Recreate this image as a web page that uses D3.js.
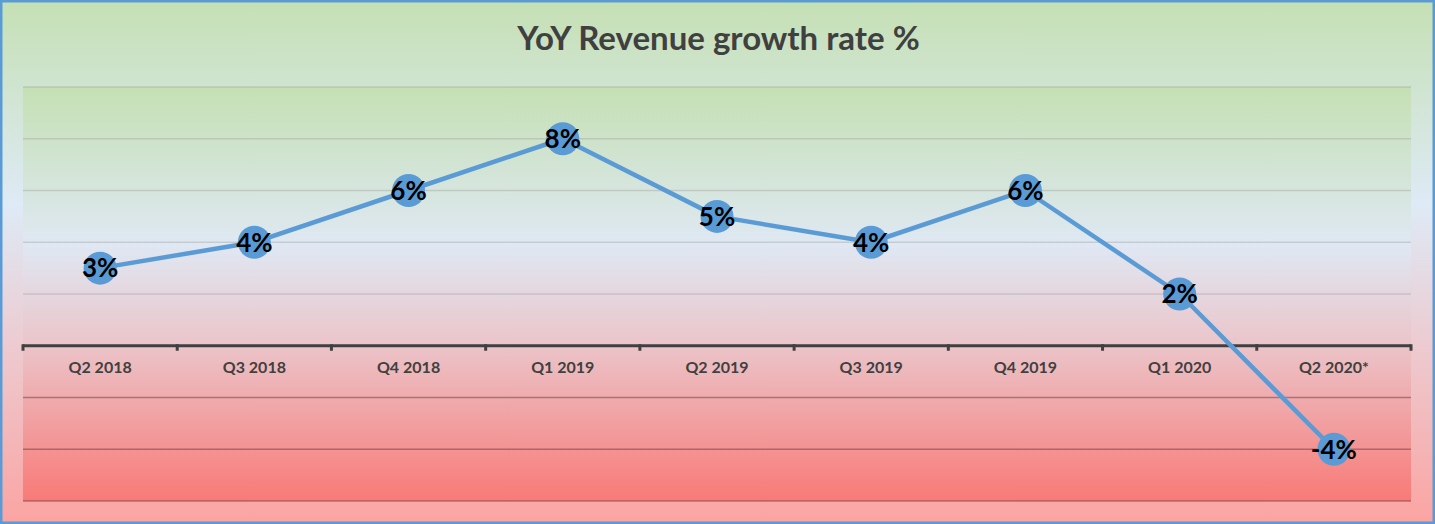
<!DOCTYPE html>
<html>
<head>
<meta charset="utf-8">
<script src="https://cdn.jsdelivr.net/npm/d3@7"></script>
<style>
  html, body { margin: 0; padding: 0; background: #fff; }
  svg { display: block; }
</style>
</head>
<body>
<script>
// chart data
var quarters = ["Q2 2018", "Q3 2018", "Q4 2018", "Q1 2019", "Q2 2019", "Q3 2019", "Q4 2019", "Q1 2020", "Q2 2020*"];
var growth = [3, 4, 6, 8, 5, 4, 6, 2, -4];
var gridValues = [-6, -4, -2, 2, 4, 6, 8, 10];

var W = 1435, H = 524;
var plot = { left: 23, right: 1411, top: 87, bottom: 501 };

var svg = d3.select("body")
            .append("svg")
            .attr("width", W)
            .attr("height", H);

var defs = svg.append("defs");

var bgGrad = defs.append("linearGradient")
                 .attr("id", "bgGrad")
                 .attr("x1", 0).attr("y1", 0).attr("x2", 0).attr("y2", 1);
bgGrad.append("stop").attr("offset", "0%").attr("stop-color", "#c5e0b4");
bgGrad.append("stop").attr("offset", "39%").attr("stop-color", "#deeaf6");
bgGrad.append("stop").attr("offset", "65%").attr("stop-color", "#ecccd2");
bgGrad.append("stop").attr("offset", "100%").attr("stop-color", "#fba4a2");

var plotGrad = defs.append("linearGradient")
                   .attr("id", "plotGrad")
                   .attr("x1", 0).attr("y1", 0).attr("x2", 0).attr("y2", 1);
plotGrad.append("stop").attr("offset", "0%").attr("stop-color", "#c5e0b4");
plotGrad.append("stop").attr("offset", "38%").attr("stop-color", "#dfe8f3");
plotGrad.append("stop").attr("offset", "62%").attr("stop-color", "#ebc5ca");
plotGrad.append("stop").attr("offset", "100%").attr("stop-color", "#f87a77");

// outer chart background
svg.append("rect")
   .attr("x", 1.25).attr("y", 1.25)
   .attr("width", W - 2.5).attr("height", H - 2.5)
   .attr("fill", "url(#bgGrad)")
   .attr("stroke", "#5b9bd5")
   .attr("stroke-width", 2.5);

var x = d3.scaleBand()
          .domain(quarters)
          .range([plot.left, plot.right]);

var y = d3.scaleLinear()
          .domain([-6, 10])
          .range([plot.bottom, plot.top]);

// plot area
svg.append("rect")
   .attr("x", plot.left).attr("y", plot.top)
   .attr("width", plot.right - plot.left)
   .attr("height", plot.bottom - plot.top)
   .attr("fill", "url(#plotGrad)");

// gridlines
svg.append("g")
   .selectAll("line")
   .data(gridValues)
   .enter()
   .append("line")
   .attr("x1", plot.left)
   .attr("x2", plot.right)
   .attr("y1", function(d) { return y(d); })
   .attr("y2", function(d) { return y(d); })
   .attr("stroke", function(d) {
       return d > 0 ? "rgba(150,150,150,0.35)" : "rgba(100,60,60,0.5)";
   })
   .attr("stroke-width", 1.5);

// category axis at zero
var xAxis = svg.append("g")
               .attr("transform", "translate(0," + y(0) + ")")
               .call(d3.axisBottom(x).tickSize(0).tickPadding(16));

xAxis.select(".domain").remove();
xAxis.selectAll("text")
     .attr("font-family", "Lato, 'Open Sans', sans-serif")
     .attr("font-weight", "bold")
     .attr("font-size", "16px")
     .attr("fill", "#404040");

svg.append("line")
   .attr("x1", plot.left)
   .attr("x2", plot.right)
   .attr("y1", y(0))
   .attr("y2", y(0))
   .attr("stroke", "#404040")
   .attr("stroke-width", 3);

// tick marks between categories
var boundaries = quarters.map(function(q) { return x(q); }).concat([plot.right]);
svg.append("g")
   .selectAll("line")
   .data(boundaries)
   .enter()
   .append("line")
   .attr("x1", function(d) { return d; })
   .attr("x2", function(d) { return d; })
   .attr("y1", y(0) - 1.5)
   .attr("y2", y(0) + 5)
   .attr("stroke", "#404040")
   .attr("stroke-width", 3);

// title
svg.append("text")
   .attr("x", W / 2 + 1)
   .attr("y", 50)
   .attr("text-anchor", "middle")
   .attr("font-family", "Lato, 'Open Sans', sans-serif")
   .attr("font-weight", "bold")
   .attr("font-size", "33px")
   .attr("fill", "#404040")
   .text("YoY Revenue growth rate %");

// series line
var line = d3.line()
             .x(function(d, i) { return x(quarters[i]) + x.bandwidth() / 2; })
             .y(function(d) { return y(d); });

svg.append("path")
   .datum(growth)
   .attr("d", line)
   .attr("fill", "none")
   .attr("stroke", "#5b9bd5")
   .attr("stroke-width", 4.5)
   .attr("stroke-linejoin", "round");

// markers
svg.append("g")
   .selectAll("circle")
   .data(growth)
   .enter()
   .append("circle")
   .attr("cx", function(d, i) { return x(quarters[i]) + x.bandwidth() / 2; })
   .attr("cy", function(d) { return y(d); })
   .attr("r", 16.5)
   .attr("fill", "#5b9bd5");

// data labels
svg.append("g")
   .selectAll("text")
   .data(growth)
   .enter()
   .append("text")
   .attr("x", function(d, i) { return x(quarters[i]) + x.bandwidth() / 2; })
   .attr("y", function(d) { return y(d); })
   .attr("dy", "0.36em")
   .attr("text-anchor", "middle")
   .attr("font-family", "Lato, 'Open Sans', sans-serif")
   .attr("font-weight", "bold")
   .attr("font-size", "26px")
   .attr("fill", "#000")
   .text(function(d) { return d + "%"; });
</script>
</body>
</html>
